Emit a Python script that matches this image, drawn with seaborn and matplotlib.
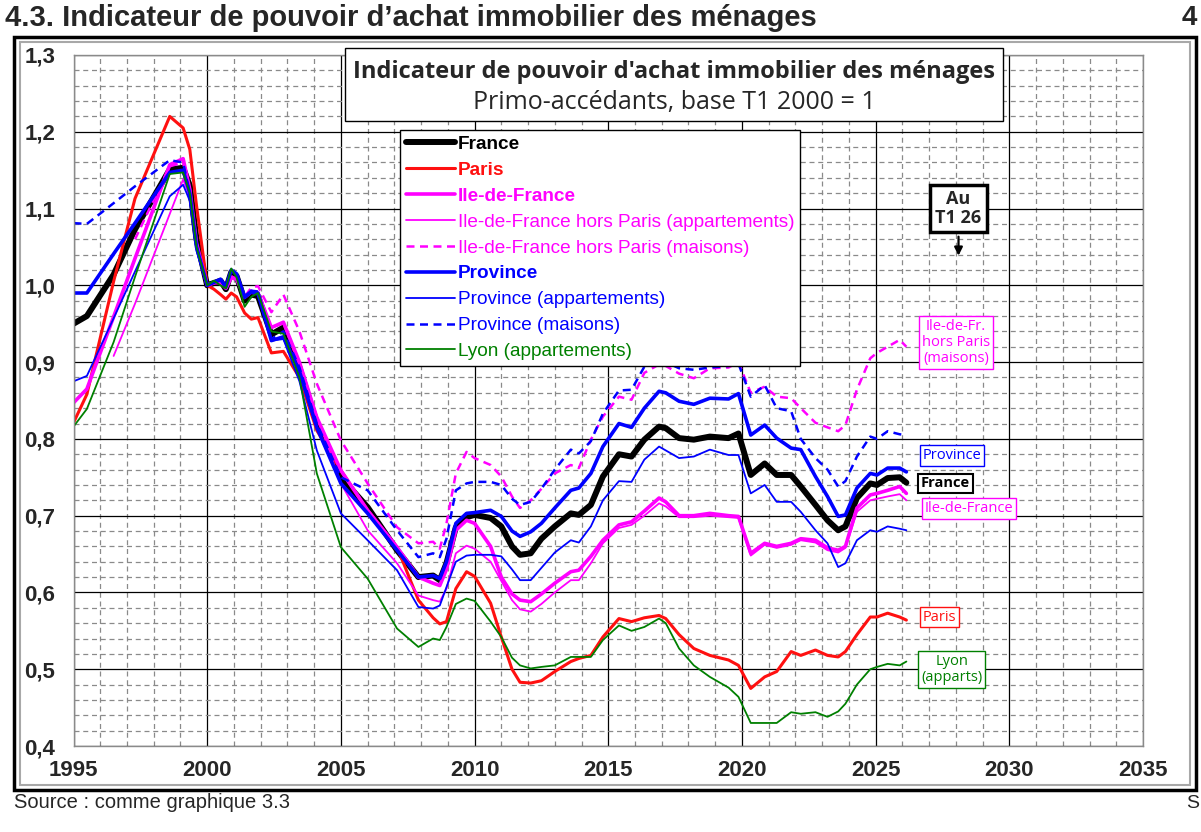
import numpy as np
import pandas as pd
import seaborn as sns
import matplotlib.pyplot as plt
from matplotlib.patches import Rectangle
from matplotlib.lines import Line2D
from matplotlib.ticker import MultipleLocator, FuncFormatter

sns.set_style("white")
plt.rcParams['font.family'] = ['Liberation Sans', 'DejaVu Sans']

nan = np.nan

# dates (years, quarterly readings picked at the turning points)
trimestres = [1995.0, 1995.5, 1996.5, 1997.3, 1998.6, 1999.1, 1999.35, 1999.6,
              2000.0, 2000.25, 2000.5, 2000.7, 2000.9, 2001.1, 2001.4, 2001.65, 2001.9,
              2002.4, 2002.85, 2003.45, 2004.1, 2005.0, 2006.0, 2007.1, 2007.9,
              2008.45, 2008.7, 2008.95, 2009.3, 2009.7, 2010.0, 2010.6, 2011.0,
              2011.4, 2011.7, 2012.1, 2012.5, 2013.0, 2013.6, 2013.9, 2014.35,
              2014.8, 2015.4, 2015.87, 2016.35, 2016.9, 2017.15, 2017.65, 2018.2,
              2018.8, 2019.5, 2019.87, 2020.33, 2020.85, 2021.3, 2021.84, 2022.2,
              2022.75, 2023.2, 2023.6, 2023.87, 2024.3, 2024.8, 2025.05, 2025.45,
              2025.9, 2026.15]

france = [0.950, 0.960, 1.014, 1.073, 1.151, 1.153, 1.130, 1.060,
          1.000, 1.003, 1.006, 0.995, 1.017, 1.012, 0.980, 0.988, 0.986,
          0.936, 0.945, 0.893, 0.820, 0.750, 0.711, 0.655, 0.620,
          0.622, 0.616, 0.638, 0.685, 0.698, 0.701, 0.697, 0.686,
          0.660, 0.649, 0.651, 0.670, 0.686, 0.703, 0.701, 0.714,
          0.751, 0.780, 0.777, 0.799, 0.816, 0.814, 0.801, 0.799,
          0.803, 0.801, 0.807, 0.753, 0.768, 0.753, 0.753, 0.738,
          0.714, 0.694, 0.681, 0.686, 0.723, 0.742, 0.740, 0.749,
          0.750, 0.743]

paris = [0.821, 0.858, 1.005, 1.113, 1.220, 1.205, 1.177, 1.104,
         1.000, 0.995, 0.988, 0.982, 0.990, 0.985, 0.964, 0.956, 0.958,
         0.912, 0.914, 0.880, 0.811, 0.759, 0.707, 0.659, 0.590,
         0.567, 0.559, 0.562, 0.605, 0.627, 0.621, 0.586, 0.542,
         0.500, 0.483, 0.482, 0.485, 0.497, 0.510, 0.514, 0.518,
         0.542, 0.566, 0.562, 0.567, 0.570, 0.566, 0.545, 0.527,
         0.518, 0.512, 0.505, 0.475, 0.490, 0.497, 0.523, 0.518,
         0.525, 0.518, 0.516, 0.523, 0.545, 0.568, 0.568, 0.573,
         0.568, 0.564]

idf = [0.847, 0.865, 0.959, 1.035, 1.157, 1.165, 1.125, 1.055,
       1.000, 1.003, 1.004, 0.996, 1.010, 1.008, 0.985, 0.992, 0.990,
       0.945, 0.952, 0.900, 0.828, 0.759, 0.707, 0.659, 0.620,
       0.612, 0.609, 0.630, 0.681, 0.694, 0.690, 0.660, 0.620,
       0.598, 0.590, 0.588, 0.598, 0.612, 0.627, 0.629, 0.647,
       0.668, 0.688, 0.692, 0.706, 0.723, 0.718, 0.700, 0.700,
       0.703, 0.700, 0.699, 0.651, 0.664, 0.660, 0.664, 0.670,
       0.668, 0.658, 0.655, 0.660, 0.710, 0.727, 0.729, 0.733,
       0.738, 0.729]

idf_apparts = [nan, nan, 0.908, 0.976, 1.093, 1.138, 1.115, 1.050,
               1.000, 1.003, 1.005, 0.996, 1.012, 1.008, 0.983, 0.990, 0.988,
               0.945, 0.950, 0.895, 0.830, 0.742, 0.681, 0.638, 0.596,
               0.590, 0.588, 0.605, 0.651, 0.661, 0.657, 0.640, 0.615,
               0.590, 0.578, 0.575, 0.585, 0.600, 0.616, 0.616, 0.638,
               0.664, 0.684, 0.688, 0.700, 0.716, 0.712, 0.698, 0.698,
               0.700, 0.698, 0.697, 0.648, 0.662, 0.658, 0.662, 0.668,
               0.665, 0.655, 0.652, 0.658, 0.705, 0.720, 0.722, 0.725,
               0.728, 0.720]

idf_maisons = [nan, nan, nan, 1.060, 1.155, 1.160, 1.125, 1.055,
               1.000, 1.003, 1.005, 0.996, 1.012, 1.008, 0.985, 0.997, 0.999,
               0.965, 0.988, 0.940, 0.872, 0.798, 0.742, 0.685, 0.664,
               0.666, 0.657, 0.690, 0.755, 0.783, 0.775, 0.766, 0.751,
               0.725, 0.710, 0.720, 0.735, 0.755, 0.766, 0.762, 0.799,
               0.829, 0.855, 0.851, 0.886, 0.897, 0.895, 0.885, 0.879,
               0.892, 0.893, 0.900, 0.860, 0.868, 0.855, 0.853, 0.840,
               0.821, 0.815, 0.810, 0.818, 0.864, 0.905, 0.912, 0.920,
               0.929, 0.920]

province = [0.990, 0.990, 1.041, 1.081, 1.147, 1.150, 1.120, 1.050,
            1.000, 1.004, 1.008, 0.998, 1.020, 1.015, 0.985, 0.992, 0.990,
            0.928, 0.933, 0.888, 0.815, 0.742, 0.703, 0.655, 0.620,
            0.622, 0.618, 0.640, 0.690, 0.703, 0.704, 0.707, 0.699,
            0.680, 0.673, 0.679, 0.690, 0.710, 0.733, 0.736, 0.755,
            0.790, 0.820, 0.815, 0.840, 0.862, 0.860, 0.849, 0.845,
            0.853, 0.852, 0.859, 0.805, 0.818, 0.801, 0.788, 0.786,
            0.751, 0.725, 0.699, 0.701, 0.736, 0.755, 0.753, 0.762,
            0.762, 0.757]

province_apparts = [0.875, 0.882, 0.957, 1.018, 1.116, 1.131, 1.110, 1.045,
                    1.000, 1.003, 1.006, 0.996, 1.018, 1.013, 0.983, 0.990, 0.988,
                    0.928, 0.930, 0.875, 0.785, 0.703, 0.668, 0.629, 0.581,
                    0.579, 0.583, 0.607, 0.640, 0.648, 0.649, 0.649, 0.647,
                    0.630, 0.616, 0.616, 0.632, 0.652, 0.668, 0.665, 0.686,
                    0.720, 0.745, 0.744, 0.773, 0.790, 0.785, 0.775, 0.777,
                    0.786, 0.779, 0.779, 0.729, 0.740, 0.718, 0.718, 0.705,
                    0.681, 0.664, 0.633, 0.638, 0.668, 0.681, 0.679, 0.686,
                    0.683, 0.681]

province_maisons = [1.081, 1.080, 1.107, 1.129, 1.163, 1.160, 1.120, 1.050,
                    1.000, 1.004, 1.008, 0.998, 1.020, 1.015, 0.985, 0.993, 0.992,
                    0.930, 0.940, 0.893, 0.820, 0.750, 0.733, 0.681, 0.646,
                    0.651, 0.646, 0.670, 0.733, 0.742, 0.744, 0.744, 0.740,
                    0.722, 0.714, 0.718, 0.735, 0.760, 0.786, 0.781, 0.797,
                    0.833, 0.863, 0.864, 0.894, 0.905, 0.900, 0.892, 0.890,
                    0.893, 0.895, 0.898, 0.855, 0.870, 0.840, 0.836, 0.800,
                    0.775, 0.760, 0.738, 0.745, 0.777, 0.803, 0.800, 0.810,
                    0.806, 0.805]

lyon = [0.816, 0.839, 0.926, 1.011, 1.145, 1.147, 1.120, 1.050,
        1.000, 1.006, 1.000, 0.996, 1.022, 1.010, 0.972, 0.985, 0.990,
        0.940, 0.937, 0.880, 0.755, 0.659, 0.618, 0.553, 0.529,
        0.540, 0.538, 0.555, 0.585, 0.592, 0.589, 0.562, 0.542,
        0.515, 0.505, 0.501, 0.503, 0.505, 0.516, 0.516, 0.516,
        0.538, 0.557, 0.550, 0.555, 0.566, 0.560, 0.527, 0.505,
        0.490, 0.476, 0.464, 0.430, 0.430, 0.430, 0.444, 0.442,
        0.444, 0.438, 0.445, 0.455, 0.480, 0.500, 0.503, 0.507,
        0.505, 0.510]

dash = (0, (3.2, 2.2))
# label, values, colour, width, style, bold
series = [
    ("France", france, "black", 4.3, "-", True),
    ("Paris", paris, "#FF1010", 2.2, "-", True),
    ("Ile-de-France", idf, "#FF00FF", 2.6, "-", True),
    ("Ile-de-France hors Paris (appartements)", idf_apparts, "#FF00FF", 1.3, "-", False),
    ("Ile-de-France hors Paris (maisons)", idf_maisons, "#FF00FF", 1.8, dash, False),
    ("Province", province, "#0000FF", 2.6, "-", True),
    ("Province (appartements)", province_apparts, "#0000FF", 1.3, "-", False),
    ("Province (maisons)", province_maisons, "#0000FF", 1.8, dash, False),
    ("Lyon (appartements)", lyon, "#008000", 1.3, "-", False),
]

W, H = 1201, 832
fig = plt.figure(figsize=(W / 100, H / 100), dpi=100)
ax = fig.add_axes([73.5 / W, 1 - 746 / H, (1143 - 73.5) / W, (746 - 55) / H])

handles = []
for label, vals, col, lw, ls, bold in series:
    d = pd.DataFrame({"t": trimestres, "v": vals}).dropna()
    sns.lineplot(data=d, x="t", y="v", color=col, linewidth=lw, linestyle=ls,
                 estimator=None, legend=False, ax=ax)
    handles.append(Line2D([], [], color=col, linewidth=lw, linestyle=ls))

ax.set_xlim(1995, 2035)
ax.set_ylim(0.4, 1.3)
ax.set_xlabel('')
ax.set_ylabel('')
ax.xaxis.set_major_locator(MultipleLocator(5))
ax.xaxis.set_minor_locator(MultipleLocator(1))
ax.yaxis.set_major_locator(MultipleLocator(0.1))
ax.yaxis.set_minor_locator(MultipleLocator(0.02))
ax.yaxis.set_major_formatter(FuncFormatter(lambda v, _: f"{v:.1f}".replace('.', ',')))
ax.set_axisbelow(True)
ax.grid(which='major', color='black', linewidth=0.9, linestyle='-')
ax.grid(which='minor', color='#8a8a8a', linewidth=0.9, linestyle=(0, (4, 3)))
ax.tick_params(which='both', direction='out', color='#8a8a8a', length=5, width=0.9)
ax.tick_params(axis='x', which='major', labelsize=16, pad=5)
ax.tick_params(axis='y', which='major', labelsize=16, pad=8)
for t in ax.get_xticklabels() + ax.get_yticklabels():
    t.set_fontweight('bold')
for s in ax.spines.values():
    s.set_color('#8a8a8a')
    s.set_linewidth(1)

leg = ax.legend(handles, [s[0] for s in series], loc='upper left',
                bbox_to_anchor=(400 / W, 1 - 130 / H), bbox_transform=fig.transFigure,
                borderaxespad=0, fontsize=13.7, handlelength=2.6, handletextpad=0.15,
                labelspacing=0.45, borderpad=0.3, fancybox=False, framealpha=1,
                edgecolor='black')
leg.get_frame().set_linewidth(1)
for txt, s in zip(leg.get_texts(), series):
    txt.set_color(s[2])
    if s[5]:
        txt.set_fontweight('bold')

osans = ['Open Sans', 'DejaVu Sans']

# title box inside the chart
fig.patches.append(Rectangle((345 / W, 1 - 121 / H), 658 / W, 73 / H, transform=fig.transFigure,
                             facecolor='white', edgecolor='black', linewidth=1, zorder=3))
fig.text(674 / W, 1 - 72 / H, "Indicateur de pouvoir d'achat immobilier des ménages",
         ha='center', va='center', fontsize=17, fontweight='bold', family=osans, zorder=4)
fig.text(674 / W, 1 - 103 / H, "Primo-accédants, base T1 2000 = 1",
         ha='center', va='center', fontsize=18, family=osans, zorder=4)

# frames
fig.patches.append(Rectangle((14 / W, 1 - 790 / H), 1182 / W, 753 / H, transform=fig.transFigure,
                             fill=False, edgecolor='black', linewidth=2.5))
fig.patches.append(Rectangle((20 / W, 1 - 785 / H), 1170 / W, 743 / H, transform=fig.transFigure,
                             fill=False, edgecolor='#a8a8a8', linewidth=1.5))

fig.text(5 / W, 1 - 18 / H, "4.3. Indicateur de pouvoir d’achat immobilier des ménages",
         ha='left', va='center', fontsize=21, fontweight='bold')
fig.text(1182 / W, 1 - 18 / H, "4", ha='left', va='center', fontsize=20, fontweight='bold')
fig.text(14 / W, 1 - 803 / H, "Source : comme graphique 3.3", ha='left', va='center', fontsize=14.5)
fig.text(1186 / W, 1 - 803 / H, "S", ha='left', va='center', fontsize=14)

# end-of-series labels
labels = [
    (2028.0, 0.926, "Ile-de-Fr.\nhors Paris\n(maisons)", "#FF00FF", 'normal', 1.0),
    (2027.85, 0.778, "Province", "#0000FF", 'normal', 1.0),
    (2027.6, 0.742, "France", "black", 'bold', 1.5),
    (2028.5, 0.709, "Ile-de-France", "#FF00FF", 'normal', 1.0),
    (2027.4, 0.568, "Paris", "#FF1010", 'normal', 1.0),
    (2027.85, 0.500, "Lyon\n(apparts)", "#008000", 'normal', 1.0),
]
for x, y, txt, col, fw, elw in labels:
    ax.text(x, y, txt, ha='center', va='center', color=col, fontsize=10.5, fontweight=fw,
            family=osans, linespacing=1.1,
            bbox=dict(boxstyle='square,pad=0.2', facecolor='white', edgecolor=col, linewidth=elw))

ax.text(2028.1, 1.10, "Au\nT1 26", ha='center', va='center', fontsize=13, fontweight='bold',
        family=osans, linespacing=1.05,
        bbox=dict(boxstyle='square,pad=0.3', facecolor='white', edgecolor='black', linewidth=2.5))
ax.annotate('', xy=(2028.1, 1.035), xytext=(2028.1, 1.067),
            arrowprops=dict(arrowstyle='-|>', color='black', lw=1.6, mutation_scale=12))

fig.savefig('out.png', dpi=100)
